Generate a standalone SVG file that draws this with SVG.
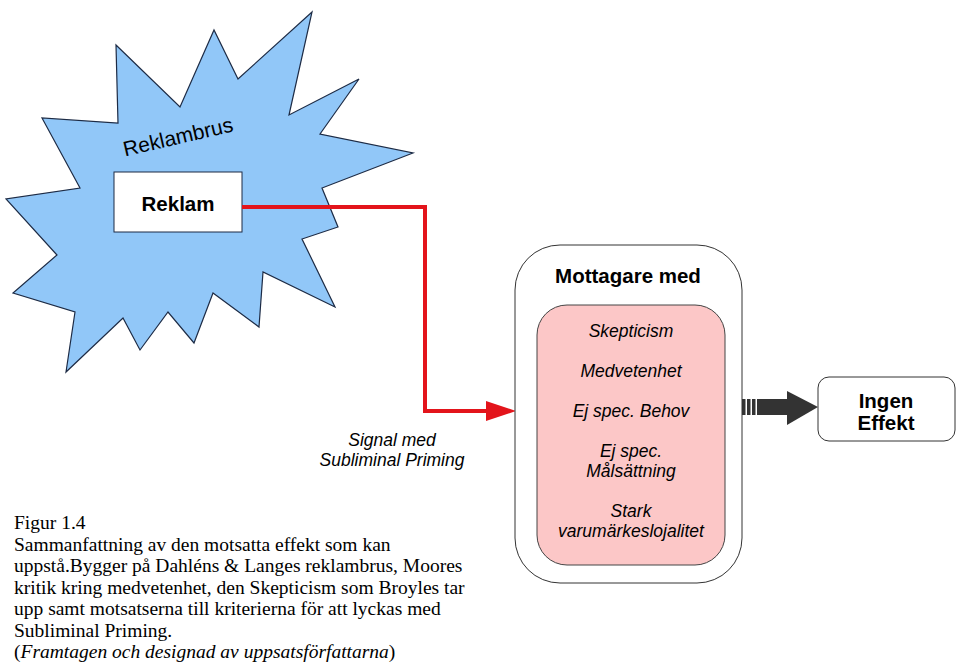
<svg xmlns="http://www.w3.org/2000/svg" width="962" height="669" viewBox="0 0 962 669">
<style>
.sans{font-family:"Liberation Sans",Arial,sans-serif;fill:#000}
.b{font-weight:bold}
.i{font-style:italic}
.serif{font-family:"Liberation Serif","Times New Roman",serif;font-size:19.5px;fill:#000}
</style>
<rect width="962" height="669" fill="#fff"/>
<g id="reklambrus">
<polygon points="116,45 180,107 214,30 238,79 312,12 289,115 359,79 320,134 413,153 322,188 338,227 302,239 335,307 263,272 259,327 213,293 194,343 168,312 140,350 123,318 66,372 75,312 13,293 57,255 6,199 80,188 42,118 118,123" fill="#91c7f8" stroke="#1d2b45" stroke-width="1.2" stroke-linejoin="miter"/>
<text class="sans" x="178" y="144" font-size="21" text-anchor="middle" transform="rotate(-13 178 137)">Reklambrus</text>
</g>
<g id="reklam">
<rect x="114" y="172" width="128" height="60" fill="#fff" stroke="#1d2b45" stroke-width="1"/>
<text class="sans b" x="178" y="211" font-size="20.5" text-anchor="middle">Reklam</text>
</g>
<g id="connectors">
<polyline points="242,207 425,207 425,411 488,411" fill="none" stroke="#e3141b" stroke-width="4"/>
<polygon points="486,401 516,411 486,421" fill="#e3141b"/>
<g fill="#333">
<rect x="742" y="399" width="3.5" height="16"/>
<rect x="747" y="399" width="3.5" height="16"/>
<rect x="752" y="399" width="3.5" height="16"/>
<rect x="757" y="399" width="32" height="16"/>
<polygon points="787,391 818,407 787,425"/>
</g>
</g>
<g id="signal-label">
<text class="sans i" x="392" y="446" font-size="17.5" text-anchor="middle">Signal med</text>
<text class="sans i" x="392" y="466" font-size="17.5" text-anchor="middle">Subliminal Priming</text>
</g>
<g id="mottagare">
<rect x="515" y="245" width="227" height="338" rx="45" ry="45" fill="#fff" stroke="#333" stroke-width="1"/>
<text class="sans b" x="628" y="283" font-size="20.5" text-anchor="middle">Mottagare med</text>
</g>
<g id="kriterier">
<rect x="537" y="305" width="188" height="260" rx="30" ry="30" fill="#fcc7c7" stroke="#444" stroke-width="1"/>
<g class="sans i" font-size="17.5" text-anchor="middle">
<text x="631" y="337">Skepticism</text>
<text x="631" y="377">Medvetenhet</text>
<text x="631" y="417">Ej spec. Behov</text>
<text x="631" y="457">Ej spec.</text>
<text x="631" y="477">Målsättning</text>
<text x="631" y="517">Stark</text>
<text x="631" y="537">varumärkeslojalitet</text>
</g>
</g>
<g id="ingen-effekt">
<rect x="818" y="377" width="137" height="64" rx="11" ry="11" fill="#fff" stroke="#333" stroke-width="1"/>
<text class="sans b" x="886" y="408" font-size="20.5" text-anchor="middle">Ingen</text>
<text class="sans b" x="886" y="430" font-size="20.5" text-anchor="middle">Effekt</text>
</g>
<g id="caption" class="serif">
<text x="14" y="529">Figur 1.4</text>
<text x="14" y="550.5">Sammanfattning av den motsatta effekt som kan</text>
<text x="14" y="572">uppstå.Bygger på Dahléns &amp; Langes reklambrus, Moores</text>
<text x="14" y="593.5">kritik kring medvetenhet, den Skepticism som Broyles tar</text>
<text x="14" y="615">upp samt motsatserna till kriterierna för att lyckas med</text>
<text x="14" y="636.5">Subliminal Priming.</text>
<text x="14" y="658">(<tspan font-style="italic">Framtagen och designad av uppsatsförfattarna</tspan>)</text>
</g>
</svg>
